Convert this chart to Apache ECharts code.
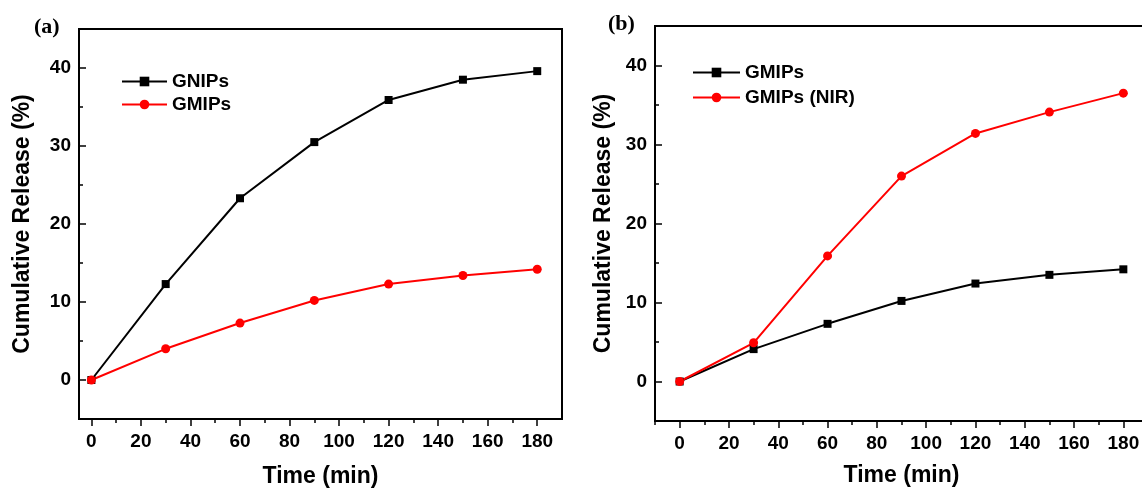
<!DOCTYPE html>
<html>
<head>
<meta charset="utf-8">
<title>Cumulative Release</title>
<script src="https://cdn.jsdelivr.net/npm/echarts@6/dist/echarts.min.js"></script>
<style>
	html, body { margin: 0; padding: 0; background: #fff; }
	#chart { width: 1142px; height: 492px; }
</style>
</head>
<body>
<div id="chart"></div>
<script>
/* 数据 */
var timeMin = [0, 30, 60, 90, 120, 150, 180];
var gnipsA = [0, 12.3, 23.3, 30.5, 35.9, 38.5, 39.6];
var gmipsA = [0, 4.0, 7.3, 10.2, 12.3, 13.4, 14.2];
var gmipsB = [0, 4.1, 7.3, 10.2, 12.4, 13.5, 14.2];
var gmipsNirB = [0, 4.9, 15.9, 26.0, 31.4, 34.1, 36.5];

var xTicks = [0, 20, 40, 60, 80, 100, 120, 140, 160, 180];
var xMinorA = [10, 30, 50, 70, 90, 110, 130, 150, 170];
var xMinorB = [-10, 10, 30, 50, 70, 90, 110, 130, 150, 170];
var yTicks = [0, 10, 20, 30, 40];
var yMinor = [5, 15, 25, 35];

var FONT = "'Liberation Sans', Arial, sans-serif";

function pairs(xs, ys){
	var out = [], i;
	for (i = 0; i < xs.length; i++) {
		out.push([xs[i], ys[i]]);
	}
	return out;
}

/* 主刻度轴 + 次刻度轴 */
function xAxes(grid, min, max, minor, gap){
	return [{
		type: 'value', gridIndex: grid, min: min, max: max,
		name: 'Time (min)', nameLocation: 'middle', nameGap: gap,
		nameTextStyle: { fontFamily: FONT, fontWeight: 'bold', fontSize: 23, color: '#000' },
		splitLine: { show: false },
		axisLine: { onZero: false, lineStyle: { color: '#000', width: 2 } },
		axisTick: { customValues: xTicks, length: 7, lineStyle: { color: '#000', width: 1.5 } },
		axisLabel: { customValues: xTicks, margin: 13, fontFamily: FONT, fontWeight: 'bold', fontSize: 19, color: '#000' }
	}, {
		type: 'value', gridIndex: grid, min: min, max: max, position: 'bottom',
		splitLine: { show: false },
		axisLine: { show: false, onZero: false },
		axisTick: { customValues: minor, length: 4, lineStyle: { color: '#000', width: 1.5 } },
		axisLabel: { show: false }
	}];
}

function yAxes(grid, gap){
	return [{
		type: 'value', gridIndex: grid, min: -5, max: 45,
		name: 'Cumulative Release (%)', nameLocation: 'middle', nameGap: gap,
		nameTextStyle: { fontFamily: FONT, fontWeight: 'bold', fontSize: 23, color: '#000' },
		splitLine: { show: false },
		axisLine: { onZero: false, lineStyle: { color: '#000', width: 2 } },
		axisTick: { inside: true, customValues: yTicks, length: 7, lineStyle: { color: '#000', width: 1.5 } },
		axisLabel: { customValues: yTicks, margin: 8, fontFamily: FONT, fontWeight: 'bold', fontSize: 19, color: '#000' }
	}, {
		type: 'value', gridIndex: grid, min: -5, max: 45, position: 'left',
		splitLine: { show: false },
		axisLine: { show: false, onZero: false },
		axisTick: { inside: true, customValues: yMinor, length: 4, lineStyle: { color: '#000', width: 1.5 } },
		axisLabel: { show: false }
	}];
}

function lineSeries(name, data, color, symbol, size, xi, yi){
	return {
		type: 'line', name: name, data: data,
		xAxisIndex: xi, yAxisIndex: yi,
		symbol: symbol, symbolSize: size,
		lineStyle: { color: color, width: 2 },
		itemStyle: { color: color },
		animation: false
	};
}

var chart = echarts.init(document.getElementById('chart'));
var legendText = { fontFamily: FONT, fontWeight: 'bold', fontSize: 19, color: '#000' };

chart.setOption({
	backgroundColor: '#fff',
	animation: false,
	title: [
		{ text: '(a)', left: 29, top: 11, textStyle: { fontFamily: "'Liberation Serif', serif", fontWeight: 'bold', fontSize: 22, color: '#000' } },
		{ text: '(b)', left: 603, top: 8, textStyle: { fontFamily: "'Liberation Serif', serif", fontWeight: 'bold', fontSize: 22, color: '#000' } }
	],
	legend: [
		{ data: ['GNIPs', 'GMIPs'], orient: 'vertical', left: 116, top: 67, itemWidth: 45, itemHeight: 12, itemGap: 4, textStyle: legendText },
		{ data: ['GMIPs ', 'GMIPs (NIR)'], orient: 'vertical', left: 687, top: 58, itemWidth: 47, itemHeight: 12, itemGap: 6, textStyle: legendText }
	],
	grid: [
		{ left: 79, top: 29, right: 580, bottom: 73, show: true, borderColor: '#000', borderWidth: 2, outerBoundsMode: 'none' },
		{ left: 655, top: 26, right: -6, bottom: 71, show: true, borderColor: '#000', borderWidth: 2, outerBoundsMode: 'none' }
	],
	xAxis: xAxes(0, -5, 190, xMinorA, 46).concat(xAxes(1, -10, 190, xMinorB, 43)),
	yAxis: yAxes(0, 45).concat(yAxes(1, 40)),
	series: [
		lineSeries('GNIPs', pairs(timeMin, gnipsA), '#000', 'rect', 8, 0, 0),
		lineSeries('GMIPs', pairs(timeMin, gmipsA), '#ff0000', 'circle', 9, 0, 0),
		lineSeries('GMIPs ', pairs(timeMin, gmipsB), '#000', 'rect', 8, 2, 2),
		lineSeries('GMIPs (NIR)', pairs(timeMin, gmipsNirB), '#ff0000', 'circle', 9, 2, 2)
	]
});
</script>
</body>
</html>
